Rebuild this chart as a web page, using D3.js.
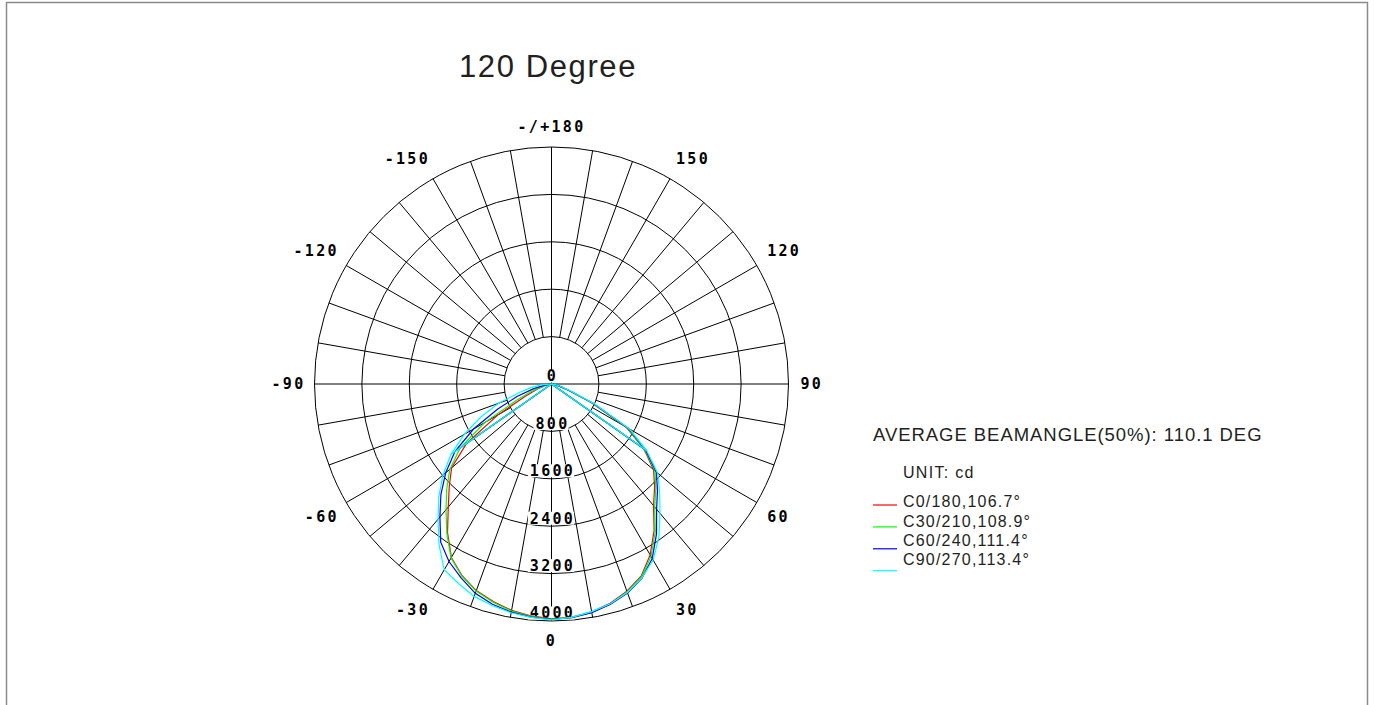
<!DOCTYPE html>
<html>
<head>
<meta charset="utf-8">
<script src="https://cdn.jsdelivr.net/npm/d3@7"></script>
<style>
    html, body { margin: 0; padding: 0; background: #fff; }
    svg { display: block; }
</style>
</head>
<body>
<div id="chart"></div>
<script>
// gamma angles of the measurement (deg), 0 = straight down
const gammas = [-90, -85, -80, -75, -70, -65, -60, -55, -50, -45, -40, -35, -30, -25, -20, -15, -10, -5,
    0, 5, 10, 15, 20, 25, 30, 35, 40, 45, 50, 55, 60, 65, 70, 75, 80, 85, 90];

// intensity (cd) per C plane
const c0 = [0, 15, 50, 130, 260, 480, 1050, 1750, 2200, 2440, 2710, 3060, 3380, 3570, 3710, 3800, 3880, 3930,
    3965, 3950, 3905, 3830, 3720, 3580, 3330, 3020, 2680, 2460, 2250, 1900, 1450, 740, 280, 120, 50, 15, 0];
const c30 = [0, 20, 70, 170, 350, 650, 1300, 1880, 2240, 2500, 2770, 3080, 3390, 3580, 3720, 3815, 3890, 3940,
    3970, 3955, 3915, 3845, 3735, 3595, 3360, 3050, 2710, 2490, 2280, 1920, 1480, 770, 300, 130, 55, 18, 0];
const c60 = [0, 40, 130, 320, 620, 1000, 1520, 1990, 2330, 2640, 2930, 3260, 3460, 3610, 3760, 3850, 3910, 3950,
    3975, 3960, 3920, 3850, 3755, 3615, 3400, 3090, 2760, 2530, 2310, 1940, 1500, 790, 320, 140, 60, 20, 0];
const c90 = [0, 170, 350, 570, 950, 1310, 1700, 2070, 2390, 2690, 2980, 3310, 3620, 3715, 3815, 3870, 3920, 3955,
    3980, 3955, 3900, 3840, 3745, 3610, 3430, 3160, 2850, 2580, 2340, 1960, 1520, 810, 340, 150, 65, 22, 0];

const seriesNames = ['C0/180,106.7°', 'C30/210,108.9°', 'C60/240,111.4°', 'C90/270,113.4°'];
const seriesColors = ['#ff0000', '#00ff00', '#0000ff', '#00ffff'];

const ringValues = [0, 800, 1600, 2400, 3200, 4000];
const angleTicks = [0, 30, 60, 90, 120, 150, 180, -150, -120, -90, -60, -30];
const angleLabels = ['0', '30', '60', '90', '120', '150', '-/+180', '-150', '-120', '-90', '-60', '-30'];
const kinkAngles = [-55, 55];

const titleText = '120 Degree';
const beamText = 'AVERAGE BEAMANGLE(50%): 110.1 DEG';
const unitText = 'UNIT: cd';

let width = 1374;
let height = 705;
let cx = 551.5;
let cy = 384;
let rMax = 237;
let labelFont = '"DejaVu Sans Mono", monospace';
let textFont = '"Liberation Sans", Arial, Helvetica, sans-serif';

let svg = d3.select('#chart')
    .append('svg')
    .attr('width', width)
    .attr('height', height);

// grey frame (bottom edge runs off the page)
svg.append('rect')
    .attr('x', 6.5)
    .attr('y', 2.5)
    .attr('width', 1361)
    .attr('height', 740)
    .attr('fill', 'none')
    .attr('stroke', '#8a8a8a')
    .attr('stroke-width', 1.5);

svg.append('text')
    .attr('x', 548)
    .attr('y', 77)
    .attr('text-anchor', 'middle')
    .attr('font-family', textFont)
    .attr('font-size', 31)
    .attr('letter-spacing', 1.6)
    .attr('fill', '#231f20')
    .text(titleText);

let r = d3.scaleLinear().domain([0, 4000]).range([0, rMax]);
// gamma 0 at the bottom, +90 on the right
let toRad = function(gamma) {
    return (180 - gamma) * Math.PI / 180;
};

let g = svg.append('g')
    .attr('transform', 'translate(' + cx + ',' + cy + ')');

// rings
g.selectAll('circle.ring')
    .data(ringValues.filter(v => v > 0))
    .join('circle')
    .attr('class', 'ring')
    .attr('r', d => r(d))
    .attr('fill', 'none')
    .attr('stroke', '#000')
    .attr('stroke-width', 1);

// spokes every 10 deg, the four main axes go through the centre
g.selectAll('line.spoke')
    .data(d3.range(0, 360, 10))
    .join('line')
    .attr('class', 'spoke')
    .each(function(a) {
        let inner = a % 90 === 0 ? 0 : r(ringValues[1]);
        let p0 = d3.pointRadial(toRad(a), inner);
        let p1 = d3.pointRadial(toRad(a), r(4000));
        d3.select(this)
            .attr('x1', p0[0]).attr('y1', p0[1])
            .attr('x2', p1[0]).attr('y2', p1[1]);
    })
    .attr('stroke', '#000')
    .attr('stroke-width', 1);

// ring value labels with white backing
let ringLabel = g.selectAll('g.ringLabel')
    .data(ringValues)
    .join('g')
    .attr('class', 'ringLabel')
    .attr('transform', d => 'translate(0,' + (r(d) - 8) + ')');

ringLabel.append('rect')
    .attr('fill', '#fff');

ringLabel.append('text')
    .attr('x', 1)
    .attr('dy', '0.36em')
    .attr('text-anchor', 'middle')
    .attr('font-family', labelFont)
    .attr('font-weight', 'bold')
    .attr('font-size', 15)
    .attr('letter-spacing', 2.3)
    .attr('fill', '#000')
    .text(d => d);

ringLabel.each(function() {
    let w = d3.select(this).select('text').node().getComputedTextLength();
    d3.select(this).select('rect')
        .attr('x', -w / 2 - 1)
        .attr('y', -6.5)
        .attr('width', w + 1)
        .attr('height', 13);
});

// angle labels, a little further out vertically on the diagonals
svg.selectAll('text.angle')
    .data(angleTicks)
    .join('text')
    .attr('class', 'angle')
    .attr('x', function(d) {
        let s = Math.sin(d * Math.PI / 180);
        return cx + 249 * s + (s < -0.01 ? 3 : 0);
    })
    .attr('y', function(d) {
        let s = Math.sin(d * Math.PI / 180);
        let c = Math.cos(d * Math.PI / 180);
        return cy + c * (257 + 12 * s * s);
    })
    .attr('dy', '0.36em')
    .attr('text-anchor', function(d) {
        let s = Math.sin(d * Math.PI / 180);
        return s > 0.01 ? 'start' : (s < -0.01 ? 'end' : 'middle');
    })
    .attr('font-family', labelFont)
    .attr('font-weight', 'bold')
    .attr('font-size', 15)
    .attr('letter-spacing', 2.3)
    .attr('fill', '#000')
    .text((d, i) => angleLabels[i]);

// curves
let series = [c0, c30, c60, c90].map(function(values, i) {
    return { name: seriesNames[i], color: seriesColors[i], values: values };
});

let line = d3.lineRadial()
    .angle((d, i) => toRad(gammas[i]))
    .radius(d => r(d));

series.forEach(function(s) {
    g.append('path')
        .attr('d', line(s.values))
        .attr('fill', 'none')
        .attr('stroke', s.color)
        .attr('stroke-width', 1.2);

    kinkAngles.forEach(function(k) {
        let p = d3.pointRadial(toRad(k), r(s.values[gammas.indexOf(k)]));
        g.append('line')
            .attr('x1', 0).attr('y1', 0)
            .attr('x2', p[0]).attr('y2', p[1])
            .attr('stroke', s.color)
            .attr('stroke-width', 1.2);
    });
});

// legend
svg.append('text')
    .attr('x', 873)
    .attr('y', 441)
    .attr('font-family', textFont)
    .attr('font-size', 18.5)
    .attr('letter-spacing', 0.95)
    .attr('fill', '#231f20')
    .text(beamText);

svg.append('text')
    .attr('x', 903)
    .attr('y', 478)
    .attr('font-family', textFont)
    .attr('font-size', 16)
    .attr('letter-spacing', 1.3)
    .attr('fill', '#231f20')
    .text(unitText);

series.forEach(function(s, i) {
    let ly = 505 + i * 21.9;
    svg.append('line')
        .attr('x1', 873).attr('x2', 897)
        .attr('y1', ly).attr('y2', ly)
        .attr('stroke', s.color)
        .attr('stroke-width', 1.2);

    svg.append('text')
        .attr('x', 903)
        .attr('y', 507.3 + i * 19.35)
        .attr('font-family', textFont)
        .attr('font-size', 16)
        .attr('letter-spacing', 1.2)
        .attr('fill', '#231f20')
        .text(s.name);
});
</script>
</body>
</html>
